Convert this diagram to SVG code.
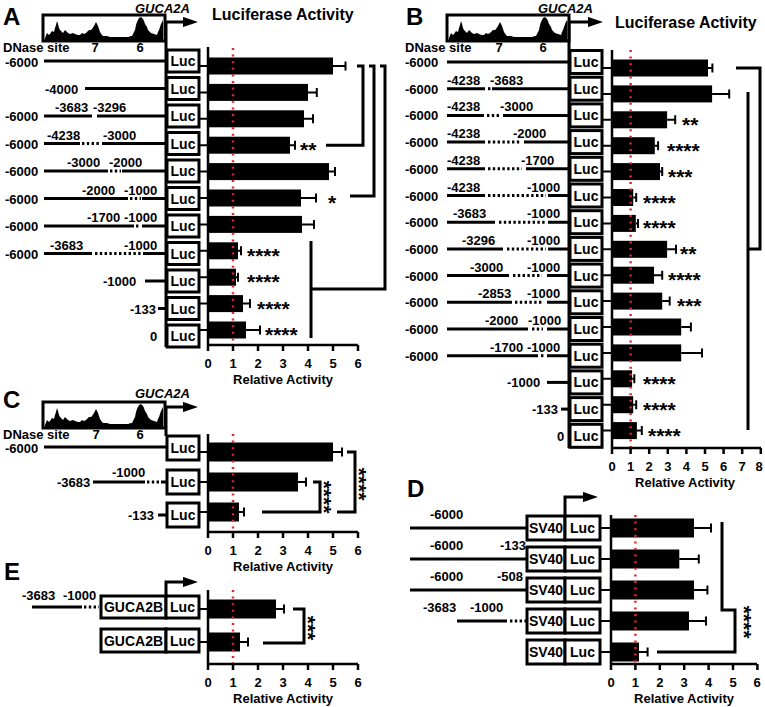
<svg xmlns="http://www.w3.org/2000/svg" xmlns:xlink="http://www.w3.org/1999/xlink" width="765" height="707" viewBox="0 0 765 707">
<style>
text{font-family:"Liberation Sans",Arial,sans-serif;font-weight:bold;fill:#000}
.l{font-size:13px}
.p{font-size:24px}
.h{font-size:16px}
.i{font-size:13px;font-style:italic}
.s{font-size:21px}
.lu{font-size:14px;text-anchor:middle}
.m{text-anchor:middle}
.k{fill:none;stroke:#000;stroke-width:3}
.d{fill:none;stroke:#000;stroke-width:3;stroke-dasharray:2.4 2.4}
.bx{fill:#fff;stroke:#000;stroke-width:3}
.ax{fill:none;stroke:#000;stroke-width:2.5}
.e{fill:none;stroke:#000;stroke-width:2}
.r{fill:none;stroke:#e3262b;stroke-width:2.5;stroke-dasharray:2 4.6}
.bar{fill:#000}
</style>
<defs>
<marker id="ah" markerWidth="5" markerHeight="3.4" refX="0" refY="1.7" orient="auto" markerUnits="strokeWidth"><path d="M0,0 L5,1.7 L0,3.4z" fill="#000"/></marker>
<g id="dn">
<rect x="0" y="0" width="122" height="26" fill="#fff" stroke="#000" stroke-width="3"/>
<path d="M2,24 L2,23 L4,18 L6,20 L7,19 L9,16 L11,17 L12,13 L13,10 L14,6 L15,9 L16,13 L17,15 L19,17 L20,18 L22,15 L23,16 L25,18 L27,19 L30,18 L32,19 L35,20 L37,20 L39,18 L41,19 L43,18 L44,17 L46,15 L48,15 L49,14 L51,11 L52,9 L53,7 L54,9 L55,11 L56,14 L57,17 L59,20 L60,21 L64,21 L67,22 L72,22 L77,22 L82,22 L85,22 L88,21 L89,21 L91,17 L92,15 L93,10 L94,7 L95,5 L96,3 L98,2 L100,4 L101,6 L102,9 L104,12 L105,15 L107,17 L108,18 L111,19 L114,20 L115,17 L116,15 L118,9 L120,5 L120,25 L2,25 Z" fill="#000"/>
</g>
</defs>

<!-- ============ PANEL A ============ -->
<g id="panelA">
<text class="p" x="3" y="25">A</text>
<use xlink:href="#dn" href="#dn" x="43" y="15"/>
<text class="i" x="135" y="13">GUCA2A</text>
<text class="h" x="212" y="20">Luciferase Activity</text>
<text class="l" x="3" y="51.5">DNase site</text>
<text class="l m" x="95" y="51.5">7</text>
<text class="l m" x="140" y="51.5">6</text>
<path class="k" d="M166,347 V22 H183" marker-end="url(#ah)"/>
<g id="A-r1"><text class="l" x="5" y="66.5">-6000</text><path class="k" d="M44,61 H166"/><rect class="bx" x="167" y="50" width="32" height="22"/><text class="lu" x="183" y="66">Luc</text></g>
<g id="A-r2"><text class="l" x="45" y="93.5">-4000</text><path class="k" d="M85,88.5 H166"/><rect class="bx" x="167" y="77.5" width="32" height="22"/><text class="lu" x="183" y="93.5">Luc</text></g>
<g id="A-r3"><text class="l" x="5" y="121">-6000</text><text class="l" x="55" y="112">-3683</text><text class="l" x="93" y="112">-3296</text><path class="k" d="M44,116 H92 M97,116 H166"/><rect class="bx" x="167" y="105" width="32" height="22"/><text class="lu" x="183" y="121">Luc</text></g>
<g id="A-r4"><text class="l" x="5" y="148.5">-6000</text><text class="l" x="47" y="139.5">-4238</text><text class="l" x="103" y="139.5">-3000</text><path class="k" d="M44,143.5 H80 M102,143.5 H166"/><path class="d" d="M82,143.5 H100"/><rect class="bx" x="167" y="132.5" width="32" height="22"/><text class="lu" x="183" y="148.5">Luc</text></g>
<g id="A-r5"><text class="l" x="5" y="176">-6000</text><text class="l" x="67" y="167">-3000</text><text class="l" x="109" y="167">-2000</text><path class="k" d="M44,171 H108 M122,171 H166"/><path class="d" d="M110,171 H121"/><rect class="bx" x="167" y="160" width="32" height="22"/><text class="lu" x="183" y="176">Luc</text></g>
<g id="A-r6"><text class="l" x="5" y="203.5">-6000</text><text class="l" x="82" y="194.5">-2000</text><text class="l" x="124" y="194.5">-1000</text><path class="k" d="M44,198.5 H128 M142,198.5 H166"/><path class="d" d="M130,198.5 H141"/><rect class="bx" x="167" y="187.5" width="32" height="22"/><text class="lu" x="183" y="203.5">Luc</text></g>
<g id="A-r7"><text class="l" x="5" y="231">-6000</text><text class="l" x="87" y="222">-1700</text><text class="l" x="124" y="222">-1000</text><path class="k" d="M44,226 H134 M142,226 H166"/><path class="d" d="M136,226 H140"/><rect class="bx" x="167" y="215" width="32" height="22"/><text class="lu" x="183" y="231">Luc</text></g>
<g id="A-r8"><text class="l" x="5" y="258.5">-6000</text><text class="l" x="50" y="249.5">-3683</text><text class="l" x="124" y="249.5">-1000</text><path class="k" d="M44,253.5 H92 M143,253.5 H166"/><path class="d" d="M95,253.5 H141"/><rect class="bx" x="167" y="242.5" width="32" height="22"/><text class="lu" x="183" y="258.5">Luc</text></g>
<g id="A-r9"><text class="l" x="103" y="286">-1000</text><path class="k" d="M145,281 H166"/><rect class="bx" x="167" y="270" width="32" height="22"/><text class="lu" x="183" y="286">Luc</text></g>
<g id="A-r10"><text class="l" x="130" y="313.5">-133</text><path class="k" d="M158,308.5 H166"/><rect class="bx" x="167" y="297.5" width="32" height="22"/><text class="lu" x="183" y="313.5">Luc</text></g>
<g id="A-r11"><text class="l" x="150" y="341">0</text><rect class="bx" x="167" y="325" width="32" height="22"/><text class="lu" x="183" y="341">Luc</text></g>
<g id="A-chart">
<path class="e" d="M199,66 H208 M199,92.4 H208 M199,118.8 H208 M199,145.2 H208 M199,171.6 H208 M199,198 H208 M199,224.4 H208 M199,250.8 H208 M199,277.2 H208 M199,303.6 H208 M199,330 H208"/>
<rect class="bar" x="208" y="57.5" width="125" height="17"/>
<rect class="bar" x="208" y="83.9" width="100" height="17"/>
<rect class="bar" x="208" y="110.3" width="96" height="17"/>
<rect class="bar" x="208" y="136.7" width="82" height="17"/>
<rect class="bar" x="208" y="163.1" width="121" height="17"/>
<rect class="bar" x="208" y="189.5" width="93" height="17"/>
<rect class="bar" x="208" y="215.9" width="94" height="17"/>
<rect class="bar" x="208" y="242.3" width="30" height="17"/>
<rect class="bar" x="208" y="268.7" width="28" height="17"/>
<rect class="bar" x="208" y="295.1" width="35" height="17"/>
<rect class="bar" x="208" y="321.5" width="38" height="17"/>
<path class="e" d="M333,66 H345.5 M345.5,61.5 V70.5 M308,92.4 H316.8 M316.8,87.9 V96.9 M304,118.8 H313 M313,114.3 V123.3 M290,145.2 H295 M295,140.7 V149.7 M329,171.6 H335 M335,167.1 V176.1 M301,198 H316 M316,193.5 V202.5 M302,224.4 H314 M314,219.9 V228.9 M238,250.8 H241 M241,246.3 V255.3 M236,277.2 H238 M238,272.7 V281.7 M243,303.6 H250 M250,299.1 V308.1 M246,330 H260 M260,325.5 V334.5"/>
<path class="r" d="M233,48 V345"/>
<path class="ax" d="M208,47 V345 H358 M208,345 V351 M233,345 V351 M258,345 V351 M283,345 V351 M308,345 V351 M333,345 V351 M358,345 V351"/>
<text class="l m" x="208" y="368">0</text><text class="l m" x="233" y="368">1</text><text class="l m" x="258" y="368">2</text><text class="l m" x="283" y="368">3</text><text class="l m" x="308" y="368">4</text><text class="l m" x="333" y="368">5</text><text class="l m" x="358" y="368">6</text>
<text class="l m" x="283" y="384">Relative Activity</text>
<text class="s" x="300" y="157">**</text>
<text class="s" x="328" y="210">*</text>
<text class="s" x="247" y="263">****</text>
<text class="s" x="247" y="289">****</text>
<text class="s" x="257" y="316">****</text>
<text class="s" x="265" y="342">****</text>
</g>
</g>

<!-- ============ PANEL B ============ -->
<g id="panelB">
<text class="p" x="406" y="25">B</text>
<use xlink:href="#dn" href="#dn" x="447" y="15"/>
<text class="i" x="538" y="13">GUCA2A</text>
<text class="h" x="615" y="28">Luciferase Activity</text>
<text class="l" x="405" y="52">DNase site</text>
<text class="l m" x="499" y="52">7</text>
<text class="l m" x="543" y="52">6</text>
<path class="k" d="M569,448 V22 H588" marker-end="url(#ah)"/>
<g id="B-r1"><text class="l" x="405" y="67">-6000</text><path class="k" d="M447,62 H568"/><rect class="bx" x="570" y="50.5" width="32" height="23"/><text class="lu" x="586" y="67">Luc</text></g>
<g id="B-r2"><text class="l" x="405" y="93.7">-6000</text><text class="l" x="447" y="84.7">-4238</text><text class="l" x="490" y="84.7">-3683</text><path class="k" d="M447,88.7 H485 M492,88.7 H568"/><path class="d" d="M488,88.7 H491"/><rect class="bx" x="570" y="77.2" width="32" height="23"/><text class="lu" x="586" y="93.7">Luc</text></g>
<g id="B-r3"><text class="l" x="405" y="120.4">-6000</text><text class="l" x="447" y="111.4">-4238</text><text class="l" x="500" y="111.4">-3000</text><path class="k" d="M447,115.4 H484 M503,115.4 H568"/><path class="d" d="M487,115.4 H501"/><rect class="bx" x="570" y="103.9" width="32" height="23"/><text class="lu" x="586" y="120.4">Luc</text></g>
<g id="B-r4"><text class="l" x="405" y="147.1">-6000</text><text class="l" x="447" y="138.1">-4238</text><text class="l" x="513" y="138.1">-2000</text><path class="k" d="M447,142.1 H485 M524,142.1 H568"/><path class="d" d="M488,142.1 H521"/><rect class="bx" x="570" y="130.6" width="32" height="23"/><text class="lu" x="586" y="147.1">Luc</text></g>
<g id="B-r5"><text class="l" x="405" y="173.8">-6000</text><text class="l" x="447" y="164.8">-4238</text><text class="l" x="521" y="164.8">-1700</text><path class="k" d="M447,168.8 H485 M526,168.8 H568"/><path class="d" d="M488,168.8 H522"/><rect class="bx" x="570" y="157.3" width="32" height="23"/><text class="lu" x="586" y="173.8">Luc</text></g>
<g id="B-r6"><text class="l" x="405" y="200.5">-6000</text><text class="l" x="447" y="191.5">-4238</text><text class="l" x="527" y="191.5">-1000</text><path class="k" d="M447,195.5 H485 M548,195.5 H568"/><path class="d" d="M488,195.5 H546"/><rect class="bx" x="570" y="184" width="32" height="23"/><text class="lu" x="586" y="200.5">Luc</text></g>
<g id="B-r7"><text class="l" x="405" y="227.2">-6000</text><text class="l" x="453" y="218.2">-3683</text><text class="l" x="527" y="218.2">-1000</text><path class="k" d="M447,222.2 H495 M548,222.2 H568"/><path class="d" d="M499,222.2 H546"/><rect class="bx" x="570" y="210.7" width="32" height="23"/><text class="lu" x="586" y="227.2">Luc</text></g>
<g id="B-r8"><text class="l" x="405" y="253.9">-6000</text><text class="l" x="462" y="244.9">-3296</text><text class="l" x="527" y="244.9">-1000</text><path class="k" d="M447,248.9 H503 M548,248.9 H568"/><path class="d" d="M507,248.9 H546"/><rect class="bx" x="570" y="237.4" width="32" height="23"/><text class="lu" x="586" y="253.9">Luc</text></g>
<g id="B-r9"><text class="l" x="405" y="280.6">-6000</text><text class="l" x="470" y="271.6">-3000</text><text class="l" x="527" y="271.6">-1000</text><path class="k" d="M447,275.6 H509 M547,275.6 H568"/><path class="d" d="M513,275.6 H542"/><rect class="bx" x="570" y="264.1" width="32" height="23"/><text class="lu" x="586" y="280.6">Luc</text></g>
<g id="B-r10"><text class="l" x="405" y="307.3">-6000</text><text class="l" x="478" y="298.3">-2853</text><text class="l" x="527" y="298.3">-1000</text><path class="k" d="M447,302.3 H512 M547,302.3 H568"/><path class="d" d="M515,302.3 H543"/><rect class="bx" x="570" y="290.8" width="32" height="23"/><text class="lu" x="586" y="307.3">Luc</text></g>
<g id="B-r11"><text class="l" x="405" y="334">-6000</text><text class="l" x="485" y="325">-2000</text><text class="l" x="528" y="325">-1000</text><path class="k" d="M447,329 H528 M547,329 H568"/><path class="d" d="M532,329 H543"/><rect class="bx" x="570" y="317.5" width="32" height="23"/><text class="lu" x="586" y="334">Luc</text></g>
<g id="B-r12"><text class="l" x="405" y="360.7">-6000</text><text class="l" x="490" y="351.7">-1700</text><text class="l" x="527" y="351.7">-1000</text><path class="k" d="M447,355.7 H538 M547,355.7 H568"/><path class="d" d="M541,355.7 H544"/><rect class="bx" x="570" y="344.2" width="32" height="23"/><text class="lu" x="586" y="360.7">Luc</text></g>
<g id="B-r13"><text class="l" x="507" y="387.4">-1000</text><path class="k" d="M547,382.4 H568"/><rect class="bx" x="570" y="370.9" width="32" height="23"/><text class="lu" x="586" y="387.4">Luc</text></g>
<g id="B-r14"><text class="l" x="532" y="414.1">-133</text><path class="k" d="M561,409.1 H568"/><rect class="bx" x="570" y="397.6" width="32" height="23"/><text class="lu" x="586" y="414.1">Luc</text></g>
<g id="B-r15"><text class="l" x="557" y="440.8">0</text><rect class="bx" x="570" y="424.3" width="32" height="23"/><text class="lu" x="586" y="440.8">Luc</text></g>
<g id="B-chart">
<path class="e" d="M602,68 H612 M602,93.9 H612 M602,119.8 H612 M602,145.7 H612 M602,171.6 H612 M602,197.5 H612 M602,223.4 H612 M602,249.3 H612 M602,275.2 H612 M602,301.1 H612 M602,327 H612 M602,352.9 H612 M602,378.8 H612 M602,404.7 H612 M602,430.6 H612"/>
<rect class="bar" x="612" y="59.5" width="96" height="17"/>
<rect class="bar" x="612" y="85.4" width="100.1" height="17"/>
<rect class="bar" x="612" y="111.3" width="55.1" height="17"/>
<rect class="bar" x="612" y="137.2" width="42.8" height="17"/>
<rect class="bar" x="612" y="163.1" width="48" height="17"/>
<rect class="bar" x="612" y="189" width="21.2" height="17"/>
<rect class="bar" x="612" y="214.9" width="23.8" height="17"/>
<rect class="bar" x="612" y="240.8" width="55.1" height="17"/>
<rect class="bar" x="612" y="266.7" width="42" height="17"/>
<rect class="bar" x="612" y="292.6" width="50.2" height="17"/>
<rect class="bar" x="612" y="318.5" width="69.2" height="17"/>
<rect class="bar" x="612" y="344.4" width="69.2" height="17"/>
<rect class="bar" x="612" y="370.3" width="20.1" height="17"/>
<rect class="bar" x="612" y="396.2" width="21.2" height="17"/>
<rect class="bar" x="612" y="422.1" width="24.9" height="17"/>
<path class="e" d="M708,68 H712.4 M712.4,63.5 V72.5 M712.1,93.9 H729.2 M729.2,89.4 V98.4 M667.1,119.8 H675.2 M675.2,115.3 V124.3 M654.8,145.7 H658.1 M658.1,141.2 V150.2 M660,171.6 H662.2 M662.2,167.1 V176.1 M633.2,197.5 H636.2 M636.2,193 V202 M635.8,223.4 H638 M638,218.9 V227.9 M667.1,249.3 H676 M676,244.8 V253.8 M654,275.2 H662.2 M662.2,270.7 V279.7 M662.2,301.1 H669.7 M669.7,296.6 V305.6 M681.2,327 H690.9 M690.9,322.5 V331.5 M681.2,352.9 H702 M702,348.4 V357.4 M632.1,378.8 H634.3 M634.3,374.3 V383.3 M633.2,404.7 H636.2 M636.2,400.2 V409.2 M636.9,430.6 H641.8 M641.8,426.1 V435.1"/>
<path class="r" d="M630.6,50 V448"/>
<path class="ax" d="M612,50 V448 H761 M612,448 V454 M630.6,448 V454 M649.2,448 V454 M667.8,448 V454 M686.4,448 V454 M705,448 V454 M723.6,448 V454 M742.2,448 V454 M760.8,448 V454"/>
<text class="l m" x="612" y="471">0</text><text class="l m" x="630.6" y="471">1</text><text class="l m" x="649.2" y="471">2</text><text class="l m" x="667.8" y="471">3</text><text class="l m" x="686.4" y="471">4</text><text class="l m" x="705" y="471">5</text><text class="l m" x="723.6" y="471">6</text><text class="l m" x="742.2" y="471">7</text><text class="l m" x="759" y="471">8</text>
<text class="l m" x="685" y="487">Relative Activity</text>
<text class="s" x="682" y="131.8">**</text>
<text class="s" x="667" y="157.7">****</text>
<text class="s" x="668" y="183.6">***</text>
<text class="s" x="643" y="209.5">****</text>
<text class="s" x="643" y="235.4">****</text>
<text class="s" x="680" y="261.3">**</text>
<text class="s" x="668" y="287.2">****</text>
<text class="s" x="677" y="313.1">***</text>
<text class="s" x="643" y="390.8">****</text>
<text class="s" x="643" y="416.7">****</text>
<text class="s" x="648" y="442.6">****</text>
</g>
</g>

<!-- ============ PANEL C ============ -->
<g id="panelC">
<text class="p" x="3" y="408">C</text>
<use xlink:href="#dn" href="#dn" x="43" y="402"/>
<text class="i" x="135" y="398">GUCA2A</text>
<text class="l" x="3" y="438.5">DNase site</text>
<text class="l m" x="96" y="438.5">7</text>
<text class="l m" x="140" y="438.5">6</text>
<path class="k" d="M166,436 V407 H183" marker-end="url(#ah)"/>
<g id="C-r1"><text class="l" x="5" y="453">-6000</text><path class="k" d="M44,447 H166"/><rect class="bx" x="167" y="436" width="32" height="24"/><text class="lu" x="183" y="453">Luc</text></g>
<g id="C-r2"><text class="l" x="57" y="487">-3683</text><text class="l" x="112" y="477">-1000</text><path class="k" d="M93,482 H145 M161,482 H166"/><path class="d" d="M147,482 H159"/><rect class="bx" x="167" y="470" width="32" height="24"/><text class="lu" x="183" y="487">Luc</text></g>
<g id="C-r3"><text class="l" x="128" y="520">-133</text><path class="k" d="M158,515 H166"/><rect class="bx" x="167" y="503" width="32" height="24"/><text class="lu" x="183" y="520">Luc</text></g>
<g id="C-chart">
<path class="e" d="M199,452 H208 M199,482 H208 M199,512 H208"/>
<rect class="bar" x="208" y="442.5" width="125" height="19"/>
<rect class="bar" x="208" y="472.5" width="90" height="19"/>
<rect class="bar" x="208" y="502.5" width="31" height="19"/>
<path class="e" d="M333,452 H342 M342,447.5 V456.5 M298,482 H306 M306,477.5 V486.5 M239,512 H244 M244,507.5 V516.5"/>
<path class="r" d="M233,434 V532"/>
<path class="ax" d="M208,434 V532 H358 M208,532 V538 M233,532 V538 M258,532 V538 M283,532 V538 M308,532 V538 M333,532 V538 M358,532 V538"/>
<text class="l m" x="208" y="555">0</text><text class="l m" x="233" y="555">1</text><text class="l m" x="258" y="555">2</text><text class="l m" x="283" y="555">3</text><text class="l m" x="308" y="555">4</text><text class="l m" x="333" y="555">5</text><text class="l m" x="358" y="555">6</text>
<text class="l m" x="283" y="571">Relative Activity</text>
</g>
</g>

<!-- ============ PANEL E ============ -->
<g id="panelE">
<text class="p" x="4" y="580">E</text>
<path class="k" d="M166,596 V582 H183" marker-end="url(#ah)"/>
<g id="E-r1"><text class="l" x="22" y="600">-3683</text><text class="l" x="63" y="600">-1000</text><path class="k" d="M32,607 H82"/><path class="d" d="M84,607 H99"/><rect class="bx" x="101" y="596" width="65" height="22"/><rect class="bx" x="166" y="596" width="33" height="22"/><text class="lu" x="133.5" y="612">GUCA2B</text><text class="lu" x="182.5" y="612">Luc</text></g>
<g id="E-r2"><rect class="bx" x="101" y="629" width="65" height="23"/><rect class="bx" x="166" y="629" width="33" height="23"/><text class="lu" x="133.5" y="645.5">GUCA2B</text><text class="lu" x="182.5" y="645.5">Luc</text></g>
<g id="E-chart">
<path class="e" d="M199,609 H208 M199,642 H208"/>
<rect class="bar" x="208" y="599.5" width="68" height="19"/>
<rect class="bar" x="208" y="632.5" width="32" height="19"/>
<path class="e" d="M276,609 H284 M284,604.5 V613.5 M240,642 H248 M248,637.5 V646.5"/>
<path class="r" d="M233,590 V664"/>
<path class="ax" d="M208,590 V664 H358 M208,664 V670 M233,664 V670 M258,664 V670 M283,664 V670 M308,664 V670 M333,664 V670 M358,664 V670"/>
<text class="l m" x="208" y="687">0</text><text class="l m" x="233" y="687">1</text><text class="l m" x="258" y="687">2</text><text class="l m" x="283" y="687">3</text><text class="l m" x="308" y="687">4</text><text class="l m" x="333" y="687">5</text><text class="l m" x="358" y="687">6</text>
<text class="l m" x="283" y="703">Relative Activity</text>
</g>
</g>

<!-- ============ PANEL D ============ -->
<g id="panelD">
<text class="p" x="407" y="497">D</text>
<path class="k" d="M565,516 V497 H583" marker-end="url(#ah)"/>
<g id="D-r1"><text class="l" x="430" y="519">-6000</text><path class="k" d="M410,528 H527"/><rect class="bx" x="527" y="516" width="38" height="24"/><rect class="bx" x="565" y="516" width="35" height="24"/><text class="lu" x="546" y="533">SV40</text><text class="lu" x="582.5" y="533">Luc</text></g>
<g id="D-r2"><text class="l" x="430" y="550">-6000</text><text class="l" x="500" y="550">-133</text><path class="k" d="M410,559 H527"/><rect class="bx" x="527" y="547" width="38" height="24"/><rect class="bx" x="565" y="547" width="35" height="24"/><text class="lu" x="546" y="564">SV40</text><text class="lu" x="582.5" y="564">Luc</text></g>
<g id="D-r3"><text class="l" x="430" y="581">-6000</text><text class="l" x="497" y="581">-508</text><path class="k" d="M410,590 H527"/><rect class="bx" x="527" y="578" width="38" height="24"/><rect class="bx" x="565" y="578" width="35" height="24"/><text class="lu" x="546" y="595">SV40</text><text class="lu" x="582.5" y="595">Luc</text></g>
<g id="D-r4"><text class="l" x="423" y="612">-3683</text><text class="l" x="470" y="612">-1000</text><path class="k" d="M457,621 H507"/><path class="d" d="M510,621 H526"/><rect class="bx" x="527" y="609" width="38" height="24"/><rect class="bx" x="565" y="609" width="35" height="24"/><text class="lu" x="546" y="626">SV40</text><text class="lu" x="582.5" y="626">Luc</text></g>
<g id="D-r5"><rect class="bx" x="527" y="640" width="38" height="24"/><rect class="bx" x="565" y="640" width="35" height="24"/><text class="lu" x="546" y="657">SV40</text><text class="lu" x="582.5" y="657">Luc</text></g>
<g id="D-chart">
<path class="e" d="M600,528 H611 M600,559 H611 M600,590 H611 M600,621 H611 M600,652 H611"/>
<rect class="bar" x="611" y="518.5" width="83" height="19"/>
<rect class="bar" x="611" y="549.5" width="68.3" height="19"/>
<rect class="bar" x="611" y="580.5" width="83" height="19"/>
<rect class="bar" x="611" y="611.5" width="78" height="19"/>
<rect class="bar" x="611" y="642.5" width="28" height="19"/>
<path class="e" d="M694,528 H711 M711,523.5 V532.5 M679.3,559 H698.8 M698.8,554.5 V563.5 M694,590 H707.4 M707.4,585.5 V594.5 M689,621 H706 M706,616.5 V625.5 M639,652 H647.6 M647.6,647.5 V656.5"/>
<path class="r" d="M635.4,515 V664"/>
<path class="ax" d="M611,515 V664 H757 M611,664 V670 M635.4,664 V670 M659.8,664 V670 M684.2,664 V670 M708.6,664 V670 M733,664 V670 M757.4,664 V670"/>
<text class="l m" x="611" y="687">0</text><text class="l m" x="635.4" y="687">1</text><text class="l m" x="659.8" y="687">2</text><text class="l m" x="684.2" y="687">3</text><text class="l m" x="708.6" y="687">4</text><text class="l m" x="733" y="687">5</text><text class="l m" x="757" y="687">6</text>
<text class="l m" x="684" y="703">Relative Activity</text>
</g>
</g>

<!-- ============ CONNECTORS (significance brackets) ============ -->
<g id="connectors">
<path class="k" d="M357,66 H363 V145.2 H326"/>
<path class="k" d="M369,66 H374 V196 H350"/>
<path class="k" d="M380,66 H385 V289 H311"/>
<path class="k" d="M311,241 V338"/>
<path class="k" d="M736,68 H760 V249 H748"/>
<path class="k" d="M748,92 V430"/>
<path class="k" d="M313,482 H320 V512 H262"/>
<path class="k" d="M347,452 H355 V512 H337"/>
<path class="k" d="M293,609 H304 V643 H263"/>
<path class="k" d="M722,522 V610 H735 V652 H657"/>
<text class="s m" transform="translate(317,497) rotate(90)">****</text>
<text class="s m" transform="translate(352,484) rotate(90)">****</text>
<text class="s m" transform="translate(301,628) rotate(90)">***</text>
<text class="s m" transform="translate(737,622) rotate(90)">****</text>
</g>
</svg>
